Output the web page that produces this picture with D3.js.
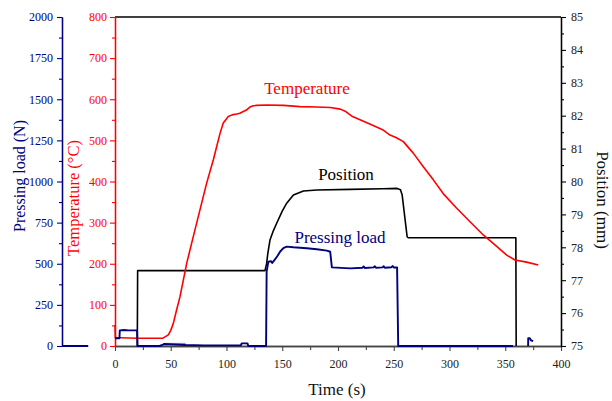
<!DOCTYPE html>
<html>
<head>
<meta charset="utf-8">
<script src="https://cdn.jsdelivr.net/npm/d3@7"></script>
<style>
  html, body { margin: 0; padding: 0; background: #fff; }
  svg { display: block; font-family: "Liberation Serif", "Times New Roman", serif; }
</style>
</head>
<body>
<svg id="chart" width="612" height="401"></svg>
<script>
// Hot-pressing run: furnace temperature, ram position and pressing load vs time.
// Each series is a list of [time (s), value] pairs; null marks a break in the trace.

const temperature = [
  [0, 51], [0.3, 20], [5, 20], [20, 19], [35, 19], [43, 19], [47.8, 27], [50, 38],
  [52.3, 55], [55, 85], [58.3, 120], [64.3, 201], [70.2, 266], [76.2, 331],
  [82.2, 396], [88.2, 453], [94.2, 517], [97.1, 542], [101.6, 558], [105, 562],
  [109, 564], [112, 566], [115, 570], [118, 574], [121, 581], [124, 584],
  [127, 585], [136, 586], [151, 585], [166, 582], [181, 581], [193, 580],
  [202, 576], [207, 570], [213, 558], [226, 543], [240, 526], [246.6, 513],
  [252, 507], [258.6, 497], [267.5, 469], [276.5, 436], [285.5, 404],
  [294.5, 370], [306.5, 335], [318.4, 302], [330.3, 270], [342.3, 242],
  [351.3, 221], [358.7, 209], [369.2, 204], [379.6, 197]
];

const position = [
  [20, 75], [20.3, 77.29], [60, 77.29], [100, 77.29], [134.5, 77.29],
  [136, 77.51], [137, 77.8], [139, 78.22], [142, 78.5], [145, 78.73],
  [150, 79.1], [154, 79.34], [160, 79.59], [169, 79.71], [181, 79.74],
  [211, 79.76], [240, 79.78], [253, 79.79], [256, 79.75], [257.5, 79.6],
  [262, 78.32], [263, 78.29], [300, 78.29], [359.5, 78.29], [359.8, 75]
];

const pressingLoad = [
  [-47.5, 0], [-24, 0], null,
  [0, 47], [4, 47], [4.3, 95], [8, 97], [12, 95], [19.8, 95], [20.2, 0],
  [40, 0], [43, 8], [44, 12], [63, 6], [80, 4], [100, 4], [113, 5],
  [113.6, 16], [118.8, 16], [119.5, 0], [135.5, 0],
  [136, 452], [137.5, 512], [140, 515], [141, 505], [143.5, 527], [146, 550],
  [148, 573], [151, 595], [154, 604], [160, 600], [172, 594], [181, 588],
  [190, 580], [193, 573], [194.5, 478], [211, 472], [222, 476], [223, 484],
  [224, 474], [232, 478], [233, 485], [234, 476], [240, 478], [241, 485],
  [242, 476], [248, 479], [249, 486], [250, 477], [253, 478], [254, 0],
  [357, 0], null,
  [370.5, 0], [370.6, 47], [372, 47], [373, 35], [375, 30]
];

// Dense jitter of the load signal during heating, shown as a pale band.
const loadJitterTime = [43.5, 63];
const loadJitterLow = [5, 5];
const loadJitterHigh = [16, 16];

const timeTicks = d3.range(0, 401, 50);
const timeMinor = d3.range(25, 400, 50);
const tempTicks = d3.range(0, 801, 100);
const tempMinor = d3.range(50, 800, 100);
const loadTicks = d3.range(0, 2001, 250);
const loadMinor = d3.range(125, 2000, 250);
const posTicks = d3.range(75, 85.01, 1);
const posMinor = d3.range(75.5, 85, 1);

const NAVY = "#000080", RED = "#ff0000", BLACK = "#000";

const plot = { left: 115, right: 561, top: 17, bottom: 346 };
const loadAxisX = 62;

const x = d3.scaleLinear().domain([0, 400]).range([plot.left, plot.right]);
const yTemp = d3.scaleLinear().domain([0, 800]).range([plot.bottom, plot.top]);
const yLoad = d3.scaleLinear().domain([0, 2000]).range([plot.bottom, plot.top]);
const yPos = d3.scaleLinear().domain([75, 85]).range([plot.bottom, plot.top]);

const svg = d3.select("#chart");

function styleAxis(g, color, fontSize) {
  g.select(".domain").attr("stroke", color).attr("stroke-width", 1.3);
  g.selectAll(".tick line").attr("stroke", color).attr("stroke-width", 1.1);
  g.selectAll(".tick text").attr("fill", color)
    .style("font-family", "'Liberation Serif', 'Times New Roman', serif")
    .style("font-size", fontSize + "px");
}

// Frame top edge
svg.append("line")
  .attr("x1", plot.left).attr("x2", plot.right)
  .attr("y1", plot.top).attr("y2", plot.top)
  .attr("stroke", BLACK).attr("stroke-width", 1.3);

// Bottom (time) axis
const gx = svg.append("g").attr("transform", `translate(0,${plot.bottom})`);
gx.call(d3.axisBottom(x).tickValues(timeMinor).tickSize(4).tickFormat("").tickSizeOuter(0));
styleAxis(gx, "#444", 12);
const gx2 = svg.append("g").attr("transform", `translate(0,${plot.bottom})`);
gx2.call(d3.axisBottom(x).tickValues(timeTicks).tickSize(5).tickPadding(8).tickFormat(d3.format("d")).tickSizeOuter(0));
styleAxis(gx2, "#444", 12);
gx2.selectAll(".tick text").attr("fill", "#222");

// Right (position) axis
const gp = svg.append("g").attr("transform", `translate(${plot.right},0)`);
gp.call(d3.axisRight(yPos).tickValues(posMinor).tickSize(3).tickFormat("").tickSizeOuter(0));
styleAxis(gp, BLACK, 12);
const gp2 = svg.append("g").attr("transform", `translate(${plot.right},0)`);
gp2.call(d3.axisRight(yPos).tickValues(posTicks).tickSize(5).tickPadding(5).tickFormat(d3.format("d")).tickSizeOuter(0));
styleAxis(gp2, BLACK, 12);
gp2.selectAll(".tick text").attr("fill", "#222");

// Left (temperature) axis
const gt = svg.append("g").attr("transform", `translate(${plot.left},0)`);
gt.call(d3.axisLeft(yTemp).tickValues(tempMinor).tickSize(3).tickFormat("").tickSizeOuter(0));
styleAxis(gt, RED, 12);
const gt2 = svg.append("g").attr("transform", `translate(${plot.left},0)`);
gt2.call(d3.axisLeft(yTemp).tickValues(tempTicks).tickSize(5).tickPadding(3).tickFormat(d3.format("d")).tickSizeOuter(0));
styleAxis(gt2, RED, 12);

// Offset (pressing load) axis
const gl = svg.append("g").attr("transform", `translate(${loadAxisX},0)`);
gl.call(d3.axisLeft(yLoad).tickValues(loadMinor).tickSize(3).tickFormat("").tickSizeOuter(0));
styleAxis(gl, NAVY, 12);
const gl2 = svg.append("g").attr("transform", `translate(${loadAxisX},0)`);
gl2.call(d3.axisLeft(yLoad).tickValues(loadTicks).tickSize(5).tickPadding(4).tickFormat(d3.format("d")).tickSizeOuter(0));
styleAxis(gl2, NAVY, 12);

// Series
const lineOf = (yScale) => d3.line()
  .defined(d => d !== null)
  .x(d => x(d[0]))
  .y(d => yScale(d[1]));

svg.append("path").datum(position)
  .attr("d", lineOf(yPos))
  .attr("fill", "none").attr("stroke", BLACK).attr("stroke-width", 1.6)
  .attr("stroke-linejoin", "round");

svg.append("path").datum(temperature)
  .attr("d", lineOf(yTemp))
  .attr("fill", "none").attr("stroke", RED).attr("stroke-width", 1.6)
  .attr("stroke-linejoin", "round");

svg.append("path").datum(loadJitterTime.map((t, i) => [t, loadJitterLow[i], loadJitterHigh[i]]))
  .attr("d", d3.area().x(d => x(d[0])).y0(d => yLoad(d[1])).y1(d => yLoad(d[2])))
  .attr("fill", "#9ea3cf").attr("stroke", "#7f86c0").attr("stroke-width", 0.8);

svg.append("path").datum(pressingLoad)
  .attr("d", lineOf(yLoad))
  .attr("fill", "none").attr("stroke", NAVY).attr("stroke-width", 1.9)
  .attr("stroke-linejoin", "round");

// Series labels
const serif = "'Liberation Serif', 'Times New Roman', serif";
svg.append("text").attr("x", 307).attr("y", 94).attr("text-anchor", "middle")
  .attr("fill", RED).style("font-size", "17px").style("font-family", serif).text("Temperature");
svg.append("text").attr("x", 346).attr("y", 180).attr("text-anchor", "middle")
  .attr("fill", BLACK).style("font-size", "17px").style("font-family", serif).text("Position");
svg.append("text").attr("x", 340).attr("y", 243).attr("text-anchor", "middle")
  .attr("fill", NAVY).style("font-size", "17px").style("font-family", serif).text("Pressing load");

// Axis titles
svg.append("text").attr("x", 337).attr("y", 395).attr("text-anchor", "middle")
  .attr("fill", "#111").style("font-size", "17px").style("font-family", serif).text("Time (s)");
svg.append("text").attr("transform", "translate(25,176) rotate(-90)").attr("text-anchor", "middle")
  .attr("fill", NAVY).style("font-size", "16px").style("font-family", serif).text("Pressing load (N)");
svg.append("text").attr("transform", "translate(79,198) rotate(-90)").attr("text-anchor", "middle")
  .attr("fill", RED).style("font-size", "16.5px").style("font-family", serif).text("Temperature (°C)");
svg.append("text").attr("transform", "translate(597,200) rotate(90)").attr("text-anchor", "middle")
  .attr("fill", "#111").style("font-size", "17px").style("font-family", serif).text("Position (mm)");
</script>
</body>
</html>
